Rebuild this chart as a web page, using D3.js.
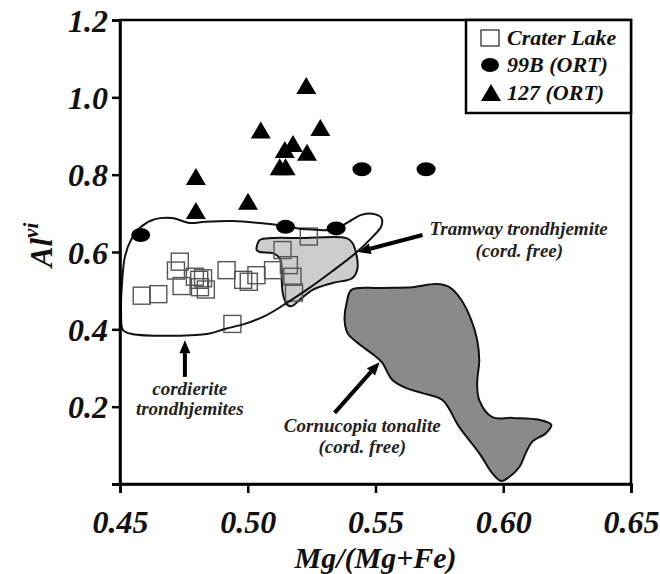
<!DOCTYPE html>
<html>
<head>
<meta charset="utf-8">
<script src="https://cdn.jsdelivr.net/npm/d3@7"></script>
<style>
  html, body { margin: 0; padding: 0; background: #fff; }
  svg { display: block; }
  text { font-family: "Liberation Serif", "Times New Roman", serif; font-weight: bold; font-style: italic; }
</style>
</head>
<body>
<svg id="chart" width="660" height="574"></svg>
<script>
// Axis ticks
const xTicks = [0.45, 0.50, 0.55, 0.60, 0.65];
const xTickLabels = ["0.45", "0.50", "0.55", "0.60", "0.65"];
const yTicks = [0, 0.2, 0.4, 0.6, 0.8, 1.0, 1.2];
const yTickLabels = ["", "0.2", "0.4", "0.6", "0.8", "1.0", "1.2"];

// Crater Lake samples [Mg/(Mg+Fe), Al vi]
const craterLake = [
  [0.4585, 0.487], [0.4650, 0.491], [0.4734, 0.575], [0.4719, 0.552],
  [0.4741, 0.512], [0.4793, 0.536], [0.4810, 0.528], [0.4825, 0.532],
  [0.4836, 0.503], [0.4813, 0.509], [0.4917, 0.553], [0.4982, 0.528],
  [0.5004, 0.523], [0.5034, 0.540], [0.5099, 0.553], [0.5136, 0.605],
  [0.5161, 0.566], [0.5175, 0.536], [0.5181, 0.495], [0.5239, 0.640],
  [0.4940, 0.414]
];

// 99B (ORT)
const ort99B = [
  [0.5447, 0.814], [0.5698, 0.814], [0.5148, 0.665], [0.5346, 0.661], [0.4581, 0.644]
];

// 127 (ORT)
const ort127 = [
  [0.5229, 1.029], [0.5051, 0.914], [0.5284, 0.921], [0.5177, 0.879],
  [0.5145, 0.864], [0.5232, 0.857], [0.5125, 0.819], [0.5148, 0.819],
  [0.5001, 0.730], [0.4797, 0.794], [0.4797, 0.706]
];

// Field outlines
const cordieriteField = [
  [0.4512, 0.398], [0.4547, 0.388], [0.4840, 0.388], [0.4910, 0.401], [0.4988, 0.414],
  [0.5074, 0.437], [0.5152, 0.468], [0.5230, 0.502], [0.5332, 0.551], [0.5418, 0.595],
  [0.5484, 0.636], [0.5523, 0.667], [0.5523, 0.688], [0.5496, 0.698], [0.5445, 0.696],
  [0.5395, 0.678], [0.5340, 0.659], [0.5223, 0.659], [0.5148, 0.667], [0.5047, 0.675],
  [0.4941, 0.680], [0.4832, 0.678], [0.4773, 0.675], [0.4703, 0.688], [0.4637, 0.685],
  [0.4582, 0.665], [0.4547, 0.636], [0.4520, 0.590], [0.4508, 0.520], [0.4504, 0.445]
];

const tramwayField = [
  [0.5035, 0.613], [0.5047, 0.631], [0.5098, 0.636], [0.5203, 0.636], [0.5387, 0.636],
  [0.5410, 0.623], [0.5430, 0.561], [0.5410, 0.533], [0.5332, 0.520], [0.5254, 0.502],
  [0.5203, 0.476], [0.5172, 0.460], [0.5152, 0.465], [0.5137, 0.494], [0.5133, 0.528],
  [0.5133, 0.553], [0.5125, 0.584], [0.5098, 0.597], [0.5047, 0.600], [0.5035, 0.605]
];

const cornucopiaField = [
  [0.5406, 0.502], [0.5516, 0.507], [0.5645, 0.509], [0.5738, 0.517], [0.5789, 0.509],
  [0.5836, 0.476], [0.5875, 0.424], [0.5898, 0.372], [0.5906, 0.321], [0.5898, 0.261],
  [0.5906, 0.217], [0.5957, 0.173], [0.6035, 0.171], [0.6141, 0.166], [0.6188, 0.153],
  [0.6168, 0.132], [0.6113, 0.109], [0.6090, 0.083], [0.6063, 0.044], [0.6023, 0.018],
  [0.5992, 0.008], [0.5957, 0.028], [0.5906, 0.080], [0.5828, 0.147], [0.5762, 0.217],
  [0.5684, 0.235], [0.5621, 0.248], [0.5566, 0.269], [0.5527, 0.313], [0.5504, 0.328],
  [0.5426, 0.367], [0.5391, 0.390], [0.5379, 0.424], [0.5387, 0.468]
];

// Annotation arrows: [from, to] in data units
const arrows = [
  [[0.4754, 0.277], [0.4754, 0.372]],
  [[0.5684, 0.644], [0.5430, 0.600]],
  [[0.5340, 0.184], [0.5516, 0.315]]
];

// Annotation texts: [x, y, text, anchor]
const notes = [
  [0.4773, 0.230, "cordierite", "middle"],
  [0.4773, 0.178, "trondhjemites", "middle"],
  [0.5711, 0.644, "Tramway trondhjemite", "start"],
  [0.6063, 0.587, "(cord. free)", "middle"],
  [0.5448, 0.134, "Cornucopia tonalite", "middle"],
  [0.5448, 0.080, "(cord. free)", "middle"]
];

const legendItems = ["Crater Lake", "99B (ORT)", "127 (ORT)"];

const svg = d3.select("#chart");
const plotLeft = 120, plotRight = 631, plotTop = 20, plotBottom = 484;

const x = d3.scaleLinear().domain([0.45, 0.65]).range([plotLeft, plotRight]);
const y = d3.scaleLinear().domain([0, 1.2]).range([plotBottom, plotTop]);

const outline = d3.line().x(d => x(d[0])).y(d => y(d[1])).curve(d3.curveCatmullRomClosed.alpha(0.5));

// Fields
svg.append("path").datum(cornucopiaField).attr("d", outline)
  .attr("fill", "#8a8a8a").attr("stroke", "#111").attr("stroke-width", 2);
svg.append("path").datum(tramwayField).attr("d", outline)
  .attr("fill", "#cdcdcd").attr("stroke", "#111").attr("stroke-width", 2);

// Crater Lake squares
const sq = 17;
svg.append("g").selectAll("rect").data(craterLake).join("rect")
  .attr("x", d => x(d[0]) - sq / 2).attr("y", d => y(d[1]) - sq / 2)
  .attr("width", sq).attr("height", sq)
  .attr("fill", "none").attr("stroke", "#555").attr("stroke-width", 1.4);

svg.append("path").datum(cordieriteField).attr("d", outline)
  .attr("fill", "none").attr("stroke", "#111").attr("stroke-width", 2);

// 99B ellipses
svg.append("g").selectAll("ellipse").data(ort99B).join("ellipse")
  .attr("cx", d => x(d[0])).attr("cy", d => y(d[1]))
  .attr("rx", 9.5).attr("ry", 7).attr("fill", "#000");

// 127 triangles
const tri = (cx, cy) => `M${cx},${cy - 9}L${cx + 10},${cy + 8}L${cx - 10},${cy + 8}Z`;
svg.append("g").selectAll("path").data(ort127).join("path")
  .attr("d", d => tri(x(d[0]), y(d[1]))).attr("fill", "#000");

// Arrows
arrows.forEach(([a, b]) => {
  const x1 = x(a[0]), y1 = y(a[1]), x2 = x(b[0]), y2 = y(b[1]);
  const ang = Math.atan2(y2 - y1, x2 - x1);
  const hl = 13, hw = 5.5;
  const bx = x2 - hl * Math.cos(ang), by = y2 - hl * Math.sin(ang);
  svg.append("line").attr("x1", x1).attr("y1", y1).attr("x2", bx).attr("y2", by)
    .attr("stroke", "#000").attr("stroke-width", 4);
  svg.append("path")
    .attr("d", `M${x2},${y2}L${bx + hw * Math.sin(ang)},${by - hw * Math.cos(ang)}L${bx - hw * Math.sin(ang)},${by + hw * Math.cos(ang)}Z`)
    .attr("fill", "#000");
});

svg.append("g").selectAll("text").data(notes).join("text")
  .attr("x", d => x(d[0])).attr("y", d => y(d[1]))
  .attr("text-anchor", d => d[3]).attr("font-size", 19).attr("fill", "#222")
  .text(d => d[2]);

// Frame
svg.append("rect").attr("x", plotLeft).attr("y", plotTop)
  .attr("width", plotRight - plotLeft).attr("height", plotBottom - plotTop)
  .attr("fill", "none").attr("stroke", "#000").attr("stroke-width", 2.5);

// Axes
const xAxis = d3.axisBottom(x).tickValues(xTicks).tickSize(9).tickPadding(17)
  .tickFormat((d, i) => xTickLabels[i]);
const gx = svg.append("g").attr("transform", `translate(0,${plotBottom})`).call(xAxis);
const yAxis = d3.axisLeft(y).tickValues(yTicks).tickSize(8).tickPadding(4)
  .tickFormat((d, i) => yTickLabels[i]);
const gy = svg.append("g").attr("transform", `translate(${plotLeft},0)`).call(yAxis);
[gx, gy].forEach(g => {
  g.select(".domain").attr("stroke-width", 2.5).attr("stroke", "#000");
  g.selectAll(".tick line").attr("stroke-width", 2.5).attr("stroke", "#000");
  g.selectAll(".tick text").attr("font-family", "Liberation Serif")
    .attr("font-weight", "bold").attr("font-style", "italic").attr("font-size", 32).attr("fill", "#111");
});
gx.selectAll(".tick text").attr("dy", "0.71em");
gy.selectAll(".tick text").attr("dy", "0.35em");

// Axis titles
svg.append("text").attr("x", (plotLeft + plotRight) / 2).attr("y", 568).attr("text-anchor", "middle")
  .attr("font-size", 30).attr("fill", "#111").text("Mg/(Mg+Fe)");
const yt = svg.append("text").attr("transform", "translate(52,245) rotate(-90)")
  .attr("text-anchor", "middle").attr("font-size", 31).attr("fill", "#111");
yt.append("tspan").text("Al");
yt.append("tspan").attr("dy", -14).attr("font-size", 21).text("vi");

// Legend
const lg = svg.append("g");
lg.append("rect").attr("x", 466).attr("y", plotTop).attr("width", plotRight - 466).attr("height", 93)
  .attr("fill", "#fff").attr("stroke", "#000").attr("stroke-width", 2.5);
const rows = [38, 65, 93];
lg.append("rect").attr("x", 481).attr("y", rows[0] - 8).attr("width", 18).attr("height", 16)
  .attr("fill", "none").attr("stroke", "#222").attr("stroke-width", 1.2);
lg.append("ellipse").attr("cx", 490).attr("cy", rows[1]).attr("rx", 9).attr("ry", 7).attr("fill", "#000");
lg.append("path").attr("d", tri(491, rows[2])).attr("fill", "#000");
lg.selectAll("text.item").data(legendItems).join("text").attr("class", "item")
  .attr("x", 507).attr("y", (d, i) => rows[i] + 7)
  .attr("font-size", 22).attr("fill", "#111").text(d => d);
</script>
</body>
</html>
